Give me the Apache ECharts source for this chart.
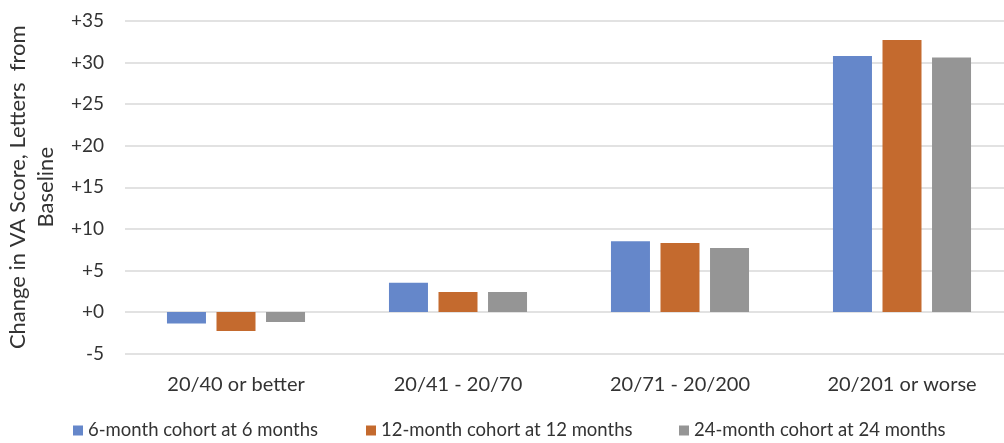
<!DOCTYPE html>
<html>
<head>
<meta charset="utf-8">
<script src="https://cdn.jsdelivr.net/npm/echarts@6/dist/echarts.min.js"></script>
<style>
  html, body { margin: 0; padding: 0; background: #fff; }
  #chart { width: 1004px; height: 443px; }
</style>
</head>
<body>
<div id="chart"></div>
<script>
// Baseline visual acuity groups
const categories = ['20/40 or better', '20/41 - 20/70', '20/71 - 20/200', '20/201 or worse'];

// Mean change in VA score (letters) per cohort
const seriesNames = ['6-month cohort at 6 months', '12-month cohort at 12 months', '24-month cohort at 24 months'];
const cohort6 = [-1.4, 3.5, 8.5, 30.8];
const cohort12 = [-2.3, 2.4, 8.3, 32.7];
const cohort24 = [-1.2, 2.4, 7.7, 30.6];

const colors = ['#6587CA', '#C46A2E', '#959595'];
const font = 'Lato, "Open Sans", sans-serif';

// one legend entry per block so each key sits at its own x position
const legendLefts = [73, 366, 679];
const legends = seriesNames.map((name, i) => ({
  top: 421,
  left: legendLefts[i],
  padding: 0,
  itemWidth: 10,
  itemHeight: 10,
  itemGap: 0,
  icon: 'rect',
  textStyle: { fontFamily: font, fontSize: 18.5, color: '#333' },
  data: [name]
}));

const chart = echarts.init(document.getElementById('chart'));
chart.setOption({
  animation: false,
  color: colors,
  grid: {
    left: 125, top: 21, width: 888, height: 332.5,
    containLabel: false, outerBoundsMode: 'none'
  },
  legend: legends,
  xAxis: {
    type: 'category',
    data: categories,
    axisLine: { show: false, onZero: false },
    axisTick: { show: false },
    axisLabel: { margin: 21, fontFamily: font, fontSize: 20, color: '#333' }
  },
  yAxis: {
    type: 'value',
    min: -5,
    max: 35,
    interval: 5,
    axisLine: { show: false },
    axisTick: { show: false },
    splitLine: { lineStyle: { color: '#d9d9d9', width: 1.5 } },
    axisLabel: {
      margin: 21,
      fontFamily: font,
      fontSize: 19,
      color: '#333',
      formatter: v => (v < 0 ? String(v) : '+' + v)
    },
    name: 'Change in VA Score, Letters  from\nBaseline',
    nameLocation: 'middle',
    nameRotate: 90,
    nameGap: 63,
    nameTextStyle: { fontFamily: font, fontSize: 22, color: '#333', lineHeight: 28 }
  },
  series: [
    { name: seriesNames[0], type: 'bar', data: cohort6, barWidth: 39, barGap: '27%' },
    { name: seriesNames[1], type: 'bar', data: cohort12, barWidth: 39, barGap: '27%' },
    { name: seriesNames[2], type: 'bar', data: cohort24, barWidth: 39, barGap: '27%' }
  ]
});
</script>
</body>
</html>
